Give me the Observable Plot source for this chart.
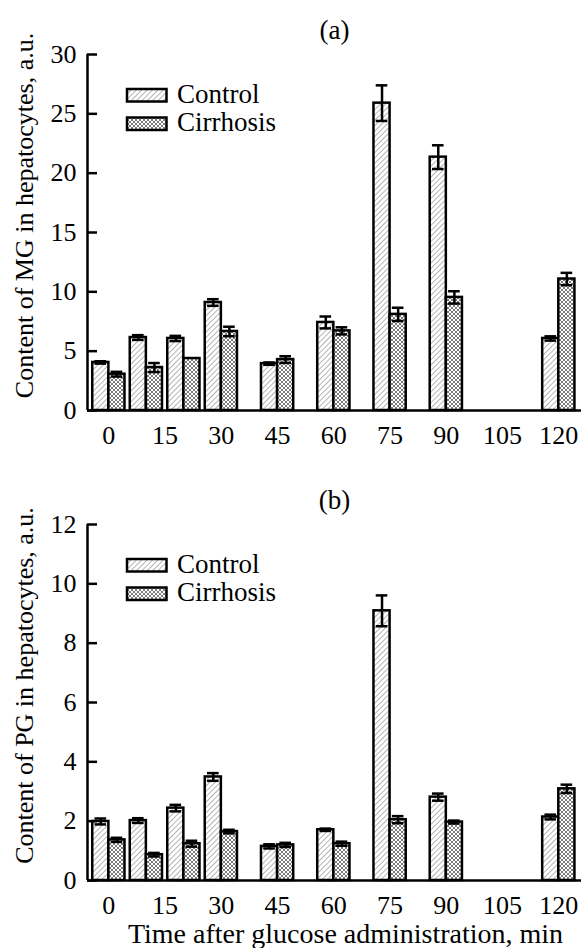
<!DOCTYPE html>
<html><head><meta charset="utf-8">
<script src="https://cdn.jsdelivr.net/npm/d3@7"></script>
<script src="https://cdn.jsdelivr.net/npm/@observablehq/plot@0.6"></script>
<style>
html,body{margin:0;padding:0;background:#fff;}
#chart svg{display:block;}
</style></head><body><div id="chart"></div>
<script>
const times = [0, 10, 20, 30, 45, 60, 75, 90, 120];
const series = ["Control", "Cirrhosis"];
const mgControl = [4.05, 6.15, 6.07, 9.1, 3.95, 7.42, 25.9, 21.35, 6.07];
const mgControlErr = [0.1, 0.2, 0.22, 0.28, 0.1, 0.5, 1.5, 1.0, 0.18];
const mgCirrhosis = [3.06, 3.62, 4.38, 6.66, 4.29, 6.71, 8.1, 9.53, 11.08];
const mgCirrhosisErr = [0.2, 0.38, 0, 0.4, 0.28, 0.3, 0.56, 0.52, 0.52];
const pgControl = [1.99, 2.02, 2.44, 3.49, 1.15, 1.71, 9.09, 2.81, 2.14];
const pgControlErr = [0.1, 0.08, 0.11, 0.13, 0.07, 0.04, 0.52, 0.12, 0.08];
const pgCirrhosis = [1.37, 0.87, 1.24, 1.65, 1.2, 1.24, 2.05, 1.97, 3.09];
const pgCirrhosisErr = [0.07, 0.06, 0.1, 0.06, 0.07, 0.07, 0.12, 0.05, 0.14];
const xTicks = [0, 15, 30, 45, 60, 75, 90, 105, 120];
const mgTicks = [0, 5, 10, 15, 20, 25, 30];
const pgTicks = [0, 2, 4, 6, 8, 10, 12];
const xDomain = [-5.7, 126.05];
const xTitle = "Time after glucose administration, min";

const FONT = "'Liberation Serif', 'DejaVu Serif', serif";

function panel({id, title, yLabel, yTicks, control, controlErr, cirr, cirrErr, height, marginBottom, withXTitle}) {
  const bw = 4.3, cap = 1.55;
  const ctrlRows = times.map((t, i) => ({t, c: t - bw / 2, v: control[i], e: controlErr[i]}));
  const cirrRows = times.map((t, i) => ({t, c: t + bw / 2, v: cirr[i], e: cirrErr[i]}));
  const errRows = [...ctrlRows, ...cirrRows].filter(d => d.e > 0);
  const yMax = yTicks[yTicks.length - 1];
  const marks = [
    Plot.rectY(ctrlRows, {x1: d => d.t - bw, x2: d => d.t, y: "v", fill: `url(#${id}-ctrl)`, stroke: "black", strokeWidth: 2.5}),
    Plot.rectY(cirrRows, {x1: d => d.t, x2: d => d.t + bw, y: "v", fill: `url(#${id}-cirr)`, stroke: "black", strokeWidth: 2.5}),
    Plot.ruleX(errRows, {x: "c", y1: d => d.v - d.e, y2: d => d.v + d.e, strokeWidth: 2.5}),
    Plot.ruleY(errRows, {y: d => d.v + d.e, x1: d => d.c - cap, x2: d => d.c + cap, strokeWidth: 2.5}),
    Plot.ruleY(errRows, {y: d => d.v - d.e, x1: d => d.c - cap, x2: d => d.c + cap, strokeWidth: 2.5}),
    Plot.ruleY([0], {strokeWidth: 2.5}),
    Plot.ruleX([xDomain[0]], {y1: 0, y2: yMax, strokeWidth: 2.5}),
    Plot.axisY({ticks: yTicks, tickSize: -10, tickPadding: 21, fontSize: 26, strokeWidth: 2.5, label: null}),
    Plot.axisX({ticks: xTicks, tickSize: 0, tickPadding: 15, fontSize: 26, label: null}),
    Plot.text([title], {text: d => d, frameAnchor: "top", lineAnchor: "middle", dy: -24, fontSize: 27}),
    Plot.text([yLabel], {text: d => d, frameAnchor: "left", textAnchor: "middle", lineAnchor: "middle", rotate: -90, dx: -63, dy: -17, fontSize: 26})
  ];
  if (withXTitle) marks.push(Plot.text([xTitle], {text: d => d, frameAnchor: "bottom", textAnchor: "middle", lineAnchor: "middle", dx: 11, dy: 54, fontSize: 28}));
  const svg = Plot.plot({
    width: 583, height,
    marginLeft: 87, marginRight: 2, marginTop: 54, marginBottom,
    style: {fontFamily: FONT, background: "white", color: "black", overflow: "visible"},
    x: {domain: xDomain, axis: null},
    y: {domain: [0, yMax], axis: null},
    marks
  });
  const s = d3.select(svg);
  const defs = s.insert("defs", ":first-child");
  const p1 = defs.append("pattern").attr("id", `${id}-ctrl`).attr("patternUnits", "userSpaceOnUse")
    .attr("width", 3.8).attr("height", 3.8).attr("patternTransform", "rotate(45)");
  p1.append("rect").attr("width", 3.8).attr("height", 3.8).attr("fill", "white");
  p1.append("line").attr("x1", 0).attr("y1", 0).attr("x2", 0).attr("y2", 3.8).attr("stroke", "#6a6a6a").attr("stroke-width", 1);
  const p2 = defs.append("pattern").attr("id", `${id}-cirr`).attr("patternUnits", "userSpaceOnUse")
    .attr("width", 4).attr("height", 4);
  p2.append("rect").attr("width", 4).attr("height", 4).attr("fill", "white");
  p2.append("path").attr("d", "M0,0L4,4M4,0L0,4M-1,1L1,-1M3,5L5,3M-1,3L1,5M3,-1L5,1").attr("stroke", "#5a5a5a").attr("stroke-width", 0.8).attr("fill", "none");
  const lg = s.append("g").attr("font-family", FONT).attr("font-size", 27).attr("text-anchor", "start");
  series.forEach((name, i) => {
    const y0 = 89 + i * 28.5;
    lg.append("rect").attr("x", 127).attr("y", y0).attr("width", 39.5).attr("height", 12.5)
      .attr("fill", `url(#${id}-${i === 0 ? "ctrl" : "cirr"})`).attr("stroke", "black").attr("stroke-width", 2.5);
    lg.append("text").attr("x", 177).attr("y", y0 + 13.5).attr("text-anchor", "start").text(name);
  });
  return svg;
}

const root = document.getElementById("chart");
root.append(panel({id: "a", title: "(a)", yLabel: "Content of MG in hepatocytes, a.u.", yTicks: mgTicks,
  control: mgControl, controlErr: mgControlErr, cirr: mgCirrhosis, cirrErr: mgCirrhosisErr,
  height: 470, marginBottom: 60, withXTitle: false}));
root.append(panel({id: "b", title: "(b)", yLabel: "Content of PG in hepatocytes, a.u.", yTicks: pgTicks,
  control: pgControl, controlErr: pgControlErr, cirr: pgCirrhosis, cirrErr: pgCirrhosisErr,
  height: 478, marginBottom: 68, withXTitle: true}));
</script></body></html>
